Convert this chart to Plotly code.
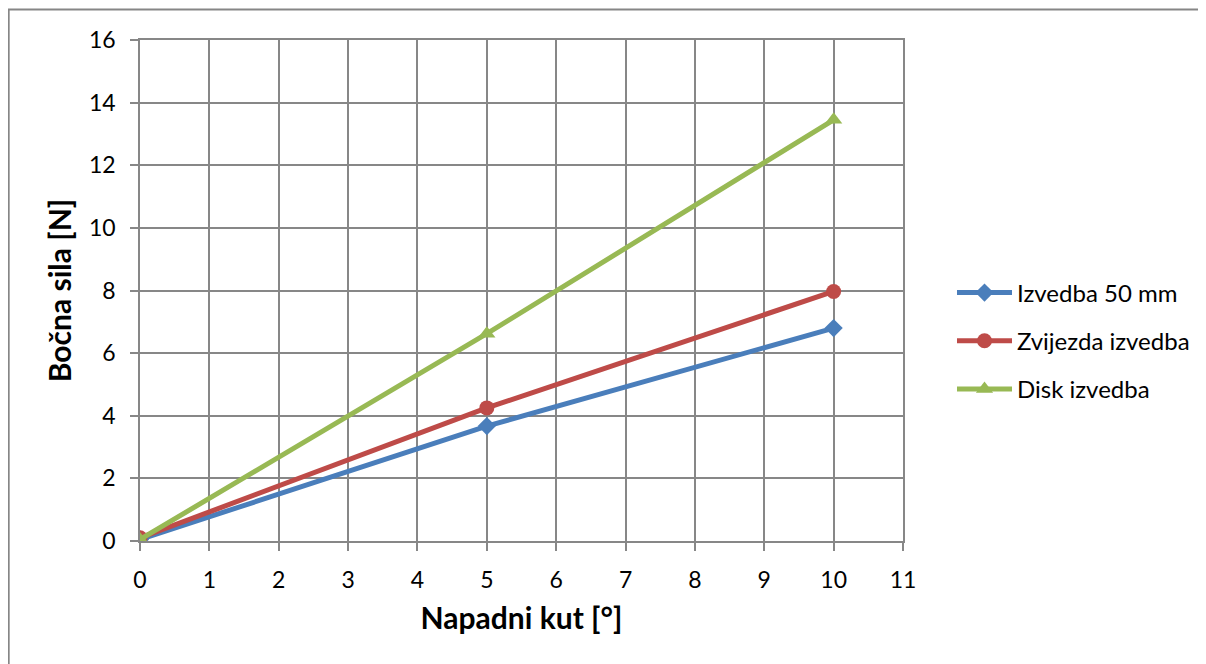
import plotly.graph_objects as go

x_vals = [0, 5, 10]
izvedba_50 = [0.05, 3.67, 6.80]
zvijezda = [0.10, 4.25, 7.97]
disk = [0.05, 6.62, 13.45]

series_names = ["Izvedba 50 mm", "Zvijezda izvedba", "Disk izvedba"]
colors = ["#4A7EBB", "#BE4B48", "#98B954"]
symbols = ["diamond", "circle", "triangle-up"]
marker_sizes = [14, 15, 15]

x_title = "Napadni kut [°]"
y_title = "Bočna sila [N]"

OFF = 8  # page body margin
W, H = 1206 - OFF, 664 - OFF
L, R, T, B = 140 - OFF, 1206 - 904, 40 - OFF, 664 - 541
FONT = "Lato"
GRID = "#878787"

fig = go.Figure()
for i, (name, ys) in enumerate(zip(series_names, [izvedba_50, zvijezda, disk])):
    fig.add_trace(go.Scatter(
        x=x_vals, y=ys, name=name, mode="lines+markers",
        line=dict(color=colors[i], width=5),
        marker=dict(symbol=symbols[i], size=marker_sizes[i], color=colors[i]),
        legendgroup=name,
    ))

pw = W - L - R
ph = H - T - B
bx = (8.5 - OFF - L) / pw
by = (H - B - (9.5 - OFF)) / ph

fig.update_layout(
    width=W, height=H,
    margin=dict(l=L, r=R, t=T, b=B, pad=0),
    paper_bgcolor="white", plot_bgcolor="white",
    font=dict(family=FONT, size=23, color="black"),
    showlegend=True,
    legend=dict(x=(952 - 140) / pw, y=(541 - 341) / ph, xanchor="left", yanchor="middle",
                font=dict(family=FONT, size=24, color="black"),
                itemwidth=55,
                tracegroupgap=14, bgcolor="rgba(0,0,0,0)"),
    xaxis=dict(range=[0, 11], tickvals=list(range(0, 12)), showgrid=True, gridcolor=GRID, gridwidth=1.5,
               showline=True, linecolor=GRID, linewidth=1.5, mirror=True,
               ticks="outside", ticklen=8, tickcolor=GRID, tickwidth=1.5,
               ticklabelstandoff=10,
               zeroline=False, tickfont=dict(size=23),
               title=dict(text="<b>" + x_title + "</b>", font=dict(size=30), standoff=16)),
    yaxis=dict(range=[0, 16], tickvals=list(range(0, 17, 2)), showgrid=True, gridcolor=GRID, gridwidth=1.5,
               showline=True, linecolor=GRID, linewidth=1.5, mirror=True,
               ticks="outside", ticklen=8, tickcolor=GRID, tickwidth=1.5,
               ticklabelstandoff=10,
               zeroline=False, tickfont=dict(size=23),
               title=dict(text="<b>" + y_title + "</b>", font=dict(size=30), standoff=8)),
    shapes=[dict(type="rect", xref="paper", yref="paper", x0=bx, x1=1.6, y0=-0.5, y1=by,
                 line=dict(color="#868686", width=2), fillcolor="rgba(0,0,0,0)", layer="below")],
)

fig.write_html("out.html")
